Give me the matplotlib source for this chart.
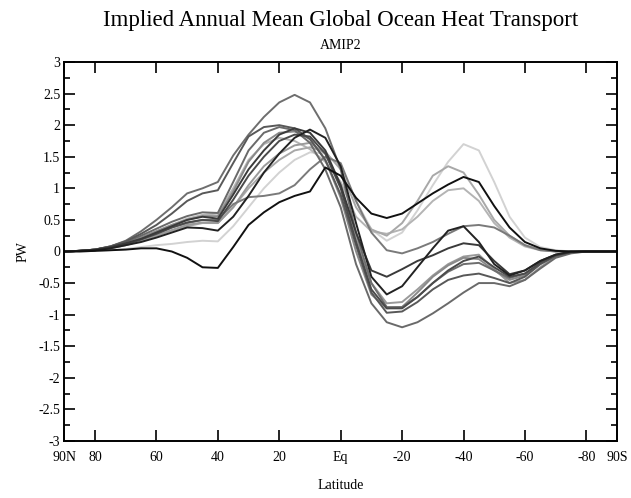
import matplotlib
matplotlib.use("Agg")
import matplotlib.pyplot as plt
from matplotlib.ticker import MultipleLocator

plt.rcParams["font.family"] = ["Liberation Serif", "DejaVu Serif"]

# latitude grid, 90N -> 90S every 5 degrees
lats = [90, 85, 80, 75, 70, 65, 60, 55, 50, 45, 40, 35, 30, 25, 20, 15, 10, 5, 0,
        -5, -10, -15, -20, -25, -30, -35, -40, -45, -50, -55, -60, -65, -70, -75, -80, -85, -90]

# implied ocean heat transport (PW), one list per model
model_a = [0, 0.01, 0.03, 0.08, 0.17, 0.32, 0.5, 0.7, 0.92, 1.0, 1.1, 1.52, 1.85, 2.13, 2.36, 2.48, 2.36, 1.95, 1.3,
           0.3, -0.5, -0.88, -0.88, -0.72, -0.5, -0.32, -0.2, -0.18, -0.3, -0.42, -0.35, -0.18, -0.06, -0.01, 0, 0, 0]
model_b = [0, 0.01, 0.03, 0.08, 0.16, 0.28, 0.42, 0.6, 0.8, 0.92, 0.97, 1.4, 1.82, 1.97, 2.0, 1.95, 1.78, 1.45, 0.9,
           0.1, -0.65, -0.97, -0.95, -0.8, -0.6, -0.45, -0.38, -0.35, -0.42, -0.5, -0.4, -0.2, -0.07, -0.01, 0, 0, 0]
model_c = [0, 0, 0.01, 0.02, 0.03, 0.05, 0.05, 0.0, -0.1, -0.25, -0.26, 0.07, 0.42, 0.62, 0.78, 0.88, 0.95, 1.33, 1.2,
           0.85, 0.6, 0.53, 0.6, 0.76, 0.92, 1.06, 1.18, 1.1, 0.72, 0.38, 0.15, 0.05, 0.01, 0, 0, 0, 0]
model_d = [0, 0.01, 0.02, 0.05, 0.1, 0.15, 0.22, 0.3, 0.38, 0.37, 0.33, 0.55, 0.88, 1.25, 1.55, 1.8, 1.93, 1.8, 1.35,
           0.45, -0.4, -0.68, -0.55, -0.25, 0.05, 0.33, 0.4, 0.15, -0.2, -0.38, -0.3, -0.15, -0.05, 0, 0, 0, 0]
model_e = [0, 0.01, 0.03, 0.07, 0.13, 0.2, 0.3, 0.4, 0.5, 0.55, 0.52, 0.9, 1.3, 1.6, 1.85, 1.95, 1.88, 1.6, 1.05,
           0.3, -0.3, -0.4, -0.28, -0.15, -0.06, 0.05, 0.13, 0.1, -0.15, -0.36, -0.3, -0.15, -0.05, -0.01, 0, 0, 0]
model_f = [0, 0.01, 0.03, 0.07, 0.12, 0.2, 0.28, 0.38, 0.45, 0.5, 0.5, 0.75, 0.86, 0.88, 0.92, 1.05, 1.3, 1.5, 1.4,
           0.8, 0.3, 0.02, -0.03, 0.05, 0.15, 0.28, 0.4, 0.42, 0.38, 0.25, 0.1, 0.02, 0, 0, 0, 0, 0]
model_g = [0, 0, 0.01, 0.02, 0.04, 0.07, 0.1, 0.12, 0.15, 0.17, 0.16, 0.4, 0.7, 1.0, 1.25, 1.45, 1.57, 1.55, 1.35,
           0.8, 0.35, 0.17, 0.3, 0.65, 1.05, 1.42, 1.7, 1.6, 1.1, 0.55, 0.22, 0.07, 0.02, 0, 0, 0, 0]
model_h = [0, 0.01, 0.02, 0.05, 0.1, 0.17, 0.25, 0.33, 0.4, 0.45, 0.45, 0.7, 1.0, 1.25, 1.45, 1.6, 1.65, 1.58, 1.3,
           0.7, 0.35, 0.25, 0.45, 0.8, 1.2, 1.35, 1.25, 0.9, 0.5, 0.25, 0.1, 0.03, 0.01, 0, 0, 0, 0]
model_i = [0, 0.01, 0.03, 0.07, 0.13, 0.22, 0.32, 0.42, 0.52, 0.58, 0.6, 1.0, 1.45, 1.7, 1.8, 1.75, 1.62, 1.42, 1.1,
           0.55, 0.32, 0.28, 0.35, 0.55, 0.8, 0.97, 1.0, 0.8, 0.45, 0.22, 0.08, 0.02, 0, 0, 0, 0, 0]
model_j = [0, 0.01, 0.03, 0.08, 0.15, 0.25, 0.36, 0.47, 0.56, 0.62, 0.61, 1.1, 1.6, 1.88, 1.97, 1.92, 1.72, 1.3, 0.7,
           -0.2, -0.82, -1.12, -1.2, -1.12, -0.98, -0.82, -0.65, -0.5, -0.5, -0.55, -0.45, -0.27, -0.1, -0.03, 0, 0, 0]
model_k = [0, 0.01, 0.03, 0.07, 0.13, 0.22, 0.32, 0.42, 0.5, 0.56, 0.56, 0.95, 1.42, 1.72, 1.88, 1.9, 1.78, 1.45, 0.85,
           0.0, -0.68, -0.9, -0.88, -0.65, -0.4, -0.22, -0.1, -0.12, -0.3, -0.45, -0.38, -0.2, -0.07, -0.01, 0, 0, 0]
model_l = [0, 0.01, 0.02, 0.06, 0.11, 0.19, 0.28, 0.38, 0.46, 0.5, 0.48, 0.82, 1.2, 1.5, 1.75, 1.85, 1.82, 1.55, 1.0,
           0.15, -0.6, -0.9, -0.9, -0.72, -0.5, -0.3, -0.15, -0.08, -0.25, -0.4, -0.35, -0.18, -0.06, -0.01, 0, 0, 0]
model_m = [0, 0.01, 0.02, 0.05, 0.1, 0.17, 0.25, 0.34, 0.42, 0.46, 0.45, 0.7, 1.05, 1.35, 1.55, 1.68, 1.72, 1.55, 1.05,
           0.2, -0.5, -0.82, -0.8, -0.6, -0.38, -0.2, -0.08, -0.05, -0.28, -0.5, -0.45, -0.25, -0.08, -0.02, 0, 0, 0]

series = [model_a, model_b, model_c, model_d, model_e, model_f, model_g,
          model_h, model_i, model_j, model_k, model_l, model_m]
shades = ["#6e6e6e", "#585858", "#111111", "#222222", "#3a3a3a", "#7a7a7a", "#d2d2d2",
          "#a8a8a8", "#b4b4b4", "#6a6a6a", "#8a8a8a", "#4a4a4a", "#9a9a9a"]

tick_lats = [90, 80, 60, 40, 20, 0, -20, -40, -60, -80, -90]
tick_names = ["90N", "80", "60", "40", "20", "Eq", "-20", "-40", "-60", "-80", "90S"]

fig = plt.figure(figsize=(6.31, 4.98), dpi=100)
ax = fig.add_axes([0.1019, 0.1145, 0.8760, 0.7610])

# light lines first so the dark ones stay on top
order = sorted(range(len(series)), key=lambda i: -int(shades[i][1:3], 16))
for i in order:
    ax.plot(lats, series[i], color=shades[i], lw=1.4, solid_capstyle="round")

ax.set_xlim(90, -90)
ax.set_ylim(-3, 3)
ax.set_xticks(tick_lats)
ax.set_xticklabels(tick_names)
ax.yaxis.set_major_locator(MultipleLocator(0.5))
ax.yaxis.set_minor_locator(MultipleLocator(0.25))
ax.set_yticklabels([f"{v:g}" for v in ax.get_yticks()])
ax.tick_params(which="both", direction="in", top=True, right=True, width=1.2, labelsize=10)
ax.tick_params(which="major", length=8, pad=3)
ax.tick_params(axis="x", which="major", pad=7)
ax.tick_params(which="minor", length=4.5)
for s in ax.spines.values():
    s.set_linewidth(1.4)

ax.set_ylabel("PW", fontsize=10, labelpad=6)
fig.text(0.54, 0.026, "Latitude", ha="center", va="center", fontsize=10)
fig.text(0.54, 0.958, "Implied Annual Mean Global Ocean Heat Transport", ha="center", va="center", fontsize=16.5)
fig.text(0.54, 0.908, "AMIP2", ha="center", va="center", fontsize=10)

fig.savefig("out.png", dpi=100, facecolor="white")
